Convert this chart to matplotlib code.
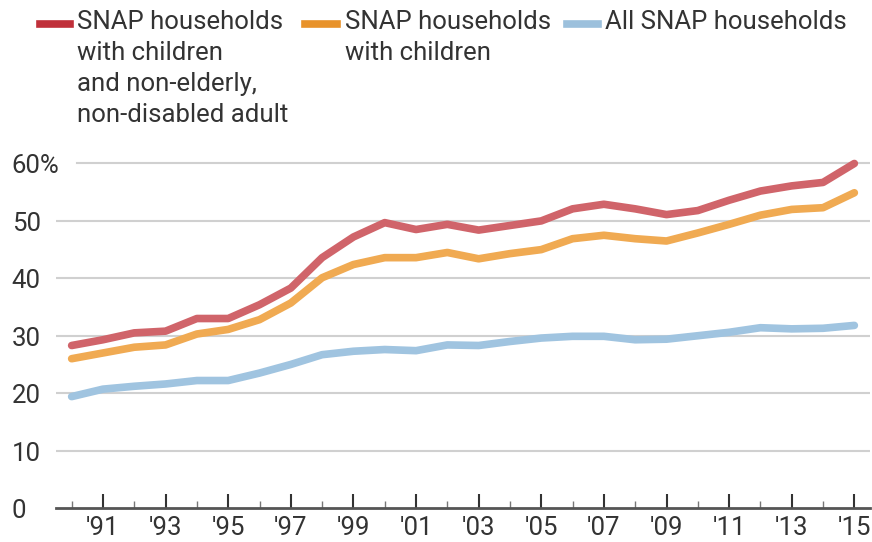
import matplotlib
matplotlib.use('Agg')
import matplotlib.pyplot as plt
from matplotlib.lines import Line2D
from matplotlib.transforms import ScaledTranslation

plt.rcParams['font.family'] = ['Roboto', 'DejaVu Sans']

years = list(range(1990, 2016))

# share of SNAP households with children and a non-elderly, non-disabled adult
kids_adult = [28.3, 29.3, 30.5, 30.8, 33.0, 33.0, 35.4, 38.3, 43.6, 47.2, 49.7, 48.5, 49.4,
              48.4, 49.2, 50.0, 52.1, 52.9, 52.1, 51.1, 51.8, 53.6, 55.2, 56.1, 56.7, 60.0]
kids = [26.0, 27.0, 28.0, 28.4, 30.3, 31.1, 32.8, 35.7, 40.1, 42.4, 43.6, 43.6, 44.5,
        43.4, 44.3, 45.0, 46.9, 47.5, 46.9, 46.5, 47.9, 49.4, 51.0, 52.0, 52.3, 54.9]
all_hh = [19.4, 20.7, 21.2, 21.6, 22.2, 22.2, 23.5, 25.0, 26.7, 27.3, 27.6, 27.4, 28.4,
          28.3, 29.0, 29.6, 29.9, 29.9, 29.3, 29.4, 30.0, 30.6, 31.4, 31.2, 31.3, 31.8]

labels = ['SNAP households\nwith children\nand non-elderly,\nnon-disabled adult',
          'SNAP households\nwith children',
          'All SNAP households']
line_colors = ['#d0646a', '#f0aa52', '#a0c4e0']
key_colors = ['#c0303a', '#e8922a', '#9cc0dc']

yticks = [0, 10, 20, 30, 40, 50, 60]
ytick_labels = ['0', '10', '20', '30', '40', '50', '60%']
xticks = list(range(1991, 2016, 2))
xtick_labels = ["'" + str(y)[2:] for y in xticks]

W, H = 872, 542
fig = plt.figure(figsize=(W / 100, H / 100), dpi=100)
ax = fig.add_axes([56 / W, (H - 508) / H, (870 - 56) / W, (508 - 152) / H])

for series, c in zip([kids_adult, kids, all_hh], line_colors):
    ax.plot(years, series, color=c, lw=5.5, solid_capstyle='round', solid_joinstyle='round', zorder=3)

ax.set_xlim(1989.5, 2015.5)
ax.set_ylim(0, 62)

for v in yticks[1:]:
    ax.axhline(v, xmin=0.026 if v == 60 else 0, color='#d0d0d0', lw=1.5, zorder=1)

for s in ['top', 'right', 'left']:
    ax.spines[s].set_visible(False)
ax.spines['bottom'].set_color('#555555')
ax.spines['bottom'].set_linewidth(2)
ax.spines['bottom'].set_zorder(4)

ax.set_yticks(yticks)
ax.set_yticklabels(ytick_labels)
ax.tick_params(axis='y', length=0, pad=32, labelsize=18.5, labelcolor='#333333')
nudge = ScaledTranslation(0, -3 / 100, fig.dpi_scale_trans)
for t in ax.get_yticklabels():
    t.set_horizontalalignment('left')
    t.set_verticalalignment('center')
    t.set_transform(t.get_transform() + nudge)

ax.set_xticks(xticks)
ax.set_xticklabels(xtick_labels)
ax.set_xticks(list(range(1990, 2016, 2)), minor=True)
ax.tick_params(axis='x', which='major', direction='in', length=10, width=1.5, color='#333333',
               labelsize=18.5, labelcolor='#333333', pad=6)
ax.tick_params(axis='x', which='minor', direction='in', length=5, width=1, color='#777777')

# legend key drawn by hand so the swatch sits by the first line of text
keys = [(40, 70, 77), (305, 337, 345), (567, 598, 605)]
for (x0, x1, tx), c, lab in zip(keys, key_colors, labels):
    fig.add_artist(Line2D([x0 / W, x1 / W], [1 - 24 / H, 1 - 24 / H], color=c, lw=5.5,
                          transform=fig.transFigure))
    fig.text(tx / W, 1 - 10 / H, lab, fontsize=18.5, color='#333333', va='top', ha='left',
             linespacing=1.37)

fig.savefig('out.png', dpi=100)
